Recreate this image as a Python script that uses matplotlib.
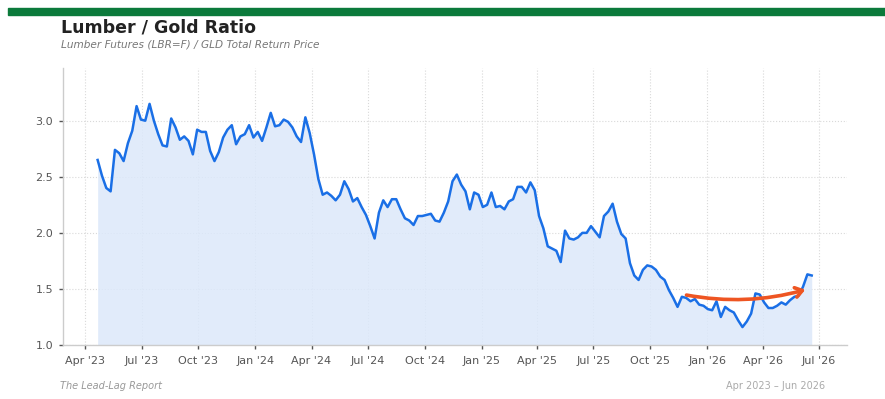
import matplotlib
matplotlib.use("Agg")
import matplotlib.pyplot as plt
import matplotlib.dates as mdates
from matplotlib.patches import FancyArrowPatch
import pandas as pd

# weekly closes (Fridays)
start_date = "2023-04-21"
ratio = [
    2.65, 2.51, 2.40, 2.37, 2.74, 2.71, 2.64, 2.80, 2.91, 3.13,
    3.01, 3.00, 3.15, 3.00, 2.88, 2.78, 2.77, 3.02, 2.94, 2.83,
    2.86, 2.82, 2.70, 2.92, 2.90, 2.90, 2.73, 2.64, 2.72, 2.85,
    2.92, 2.96, 2.79, 2.86, 2.88, 2.96, 2.85, 2.90, 2.82, 2.94,
    3.07, 2.95, 2.96, 3.01, 2.99, 2.94, 2.86, 2.81, 3.03, 2.89,
    2.70, 2.48, 2.34, 2.36, 2.33, 2.29, 2.34, 2.46, 2.39, 2.28,
    2.31, 2.23, 2.16, 2.06, 1.95, 2.18, 2.29, 2.23, 2.30, 2.30,
    2.21, 2.13, 2.11, 2.07, 2.15, 2.15, 2.16, 2.17, 2.11, 2.10,
    2.18, 2.28, 2.46, 2.52, 2.43, 2.37, 2.21, 2.36, 2.34, 2.23,
    2.25, 2.36, 2.23, 2.24, 2.21, 2.28, 2.30, 2.41, 2.41, 2.36,
    2.45, 2.38, 2.15, 2.04, 1.88, 1.86, 1.84, 1.74, 2.02, 1.95,
    1.94, 1.96, 2.00, 2.00, 2.06, 2.01, 1.96, 2.15, 2.19, 2.26,
    2.10, 1.99, 1.95, 1.73, 1.62, 1.58, 1.67, 1.71, 1.70, 1.67,
    1.61, 1.58, 1.49, 1.42, 1.34, 1.43, 1.42, 1.39, 1.41, 1.36,
    1.35, 1.32, 1.31, 1.39, 1.25, 1.34, 1.31, 1.29, 1.22, 1.16,
    1.21, 1.28, 1.46, 1.45, 1.38, 1.33, 1.33, 1.35, 1.38, 1.36,
    1.40, 1.43, 1.44, 1.52, 1.63, 1.62,
]
dates = pd.date_range(start_date, periods=len(ratio), freq="W-FRI")

y_ticks = [1.0, 1.5, 2.0, 2.5, 3.0]
x_range = ("2023-02-24", "2026-08-15")
arrow_from = ("2025-11-24", 1.45)
arrow_to = ("2026-06-13", 1.50)

title = "Lumber / Gold Ratio"
subtitle = "Lumber Futures (LBR=F) / GLD Total Return Price"
source = "The Lead-Lag Report"
period = "Apr 2023 \u2013 Jun 2026"

line_color = "#1a6fe6"
fill_color = "#dce8fa"
grey = "#555555"

fig = plt.figure(figsize=(8.85, 3.99), dpi=100)
fig.patch.set_facecolor("white")
ax = fig.add_axes([0.0712, 0.1353, 0.8858, 0.6943])

ax.fill_between(dates, ratio, 1.0, color=fill_color, alpha=0.85, linewidth=0)
ax.plot(dates, ratio, color=line_color, linewidth=1.8, solid_joinstyle="round")

arrow = FancyArrowPatch(
    (mdates.date2num(pd.Timestamp(arrow_from[0])), arrow_from[1]),
    (mdates.date2num(pd.Timestamp(arrow_to[0])), arrow_to[1]),
    connectionstyle="arc3,rad=0.12", arrowstyle="->,head_length=5,head_width=3.5",
    color="#ee5522", linewidth=2.6, zorder=5,
)
ax.add_patch(arrow)

ax.set_xlim(pd.Timestamp(x_range[0]), pd.Timestamp(x_range[1]))
ax.set_ylim(1.0, 3.47)
ax.set_yticks(y_ticks)
ax.set_yticklabels([f"{v:.1f}" for v in y_ticks])
ax.xaxis.set_major_locator(mdates.MonthLocator(bymonth=[1, 4, 7, 10]))
ax.xaxis.set_major_formatter(mdates.DateFormatter("%b '%y"))

ax.tick_params(axis="both", labelsize=8, colors=grey, length=3, width=1, pad=4)
ax.tick_params(axis="x", pad=5)
for side in ["top", "right"]:
    ax.spines[side].set_visible(False)
for side in ["left", "bottom"]:
    ax.spines[side].set_color("#cccccc")
    ax.spines[side].set_linewidth(1.0)
ax.grid(True, color="#d9d9d9", linestyle=":", linewidth=0.8)
ax.set_axisbelow(True)

# header / footer
fig.patches.append(plt.Rectangle((0.009, 0.963), 0.991, 0.018, transform=fig.transFigure,
                                 color="#0b7a3b", zorder=0))
fig.text(0.069, 0.918, title, fontsize=12.5, fontweight="bold", color="#222222", va="baseline")
fig.text(0.069, 0.88, subtitle, fontsize=7.6, style="italic", color="#777777", va="baseline")
fig.text(0.068, 0.026, source, fontsize=7, style="italic", color="#999999", va="baseline")
fig.text(0.932, 0.026, period, fontsize=7, color="#aaaaaa", ha="right", va="baseline")

plt.savefig("out.png", dpi=100)
